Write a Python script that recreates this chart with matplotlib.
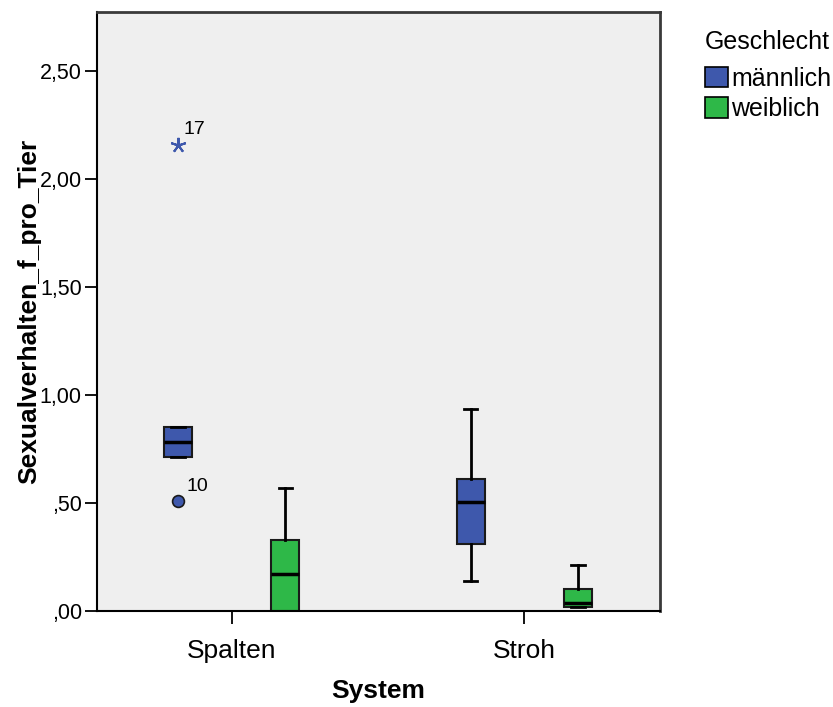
import matplotlib
matplotlib.use("Agg")
import matplotlib.pyplot as plt
from matplotlib.patches import Patch
from matplotlib.ticker import FuncFormatter

plt.rcParams["font.family"] = ["Liberation Sans", "DejaVu Sans"]

# Data
systems = ["Spalten", "Stroh"]
groups = ["männlich", "weiblich"]
colors = ["#3E58AC", "#2EB848"]

# per system, per group: [whislo, q1, med, q3, whishi]
spalten_m = [0.714, 0.714, 0.782, 0.850, 0.850]
spalten_w = [0.0, 0.0, 0.171, 0.329, 0.569]
stroh_m = [0.139, 0.309, 0.503, 0.611, 0.935]
stroh_w = [0.018, 0.020, 0.038, 0.103, 0.214]

outlier_vals = [0.509]
outlier_ids = ["10"]
extreme_vals = [2.157]
extreme_ids = ["17"]

BG = "#EFEFEF"

fig = plt.figure(figsize=(8.33, 7.07), dpi=100)
ax = fig.add_axes([97 / 833, 96 / 707, 563 / 833, 599 / 707])
ax.set_facecolor(BG)

offset = 0.1835
width = 0.0957
summaries = [[spalten_m, spalten_w], [stroh_m, stroh_w]]

for si, sys_stats in enumerate(summaries):
    for gi, s in enumerate(sys_stats):
        pos = si + (-offset if gi == 0 else offset)
        stats = [dict(whislo=s[0], q1=s[1], med=s[2], q3=s[3], whishi=s[4], fliers=[])]
        ax.bxp(stats, positions=[pos], widths=width, capwidths=0.046,
               patch_artist=True, showfliers=False,
               boxprops=dict(facecolor=colors[gi], edgecolor="#1a1a1a", linewidth=1.5),
               medianprops=dict(color="black", linewidth=2.5),
               whiskerprops=dict(color="black", linewidth=2),
               capprops=dict(color="black", linewidth=2))

# outliers / extremes (Spalten, männlich)
xo = -offset
ax.plot([xo] * len(outlier_vals), outlier_vals, "o", ms=8.5, mfc=colors[0],
        mec="#1a1a1a", mew=1.2, zorder=5)
for v, lab in zip(outlier_vals, outlier_ids):
    ax.text(xo + 0.028, v + 0.03, lab, fontsize=14, ha="left", va="bottom")
ax.plot([xo] * len(extreme_vals), extreme_vals, marker=(5, 2, 0), ls="none", ms=11,
        color=colors[0], mew=1.5, zorder=5)
for v, lab in zip(extreme_vals, extreme_ids):
    ax.text(xo + 0.02, v + 0.035, lab, fontsize=14, ha="left", va="bottom")

ax.set_xlim(-0.460, 1.464)
ax.set_ylim(0, 2.773)
ax.set_xticks(range(len(systems)))
ax.set_xticklabels(systems, fontsize=19)
ax.set_yticks([0, 0.5, 1.0, 1.5, 2.0, 2.5])
ax.yaxis.set_major_formatter(FuncFormatter(
    lambda v, p: ("%.2f" % v).replace(".", ",").lstrip("0") if v < 1 else ("%.2f" % v).replace(".", ",")))
ax.tick_params(axis="y", labelsize=15.5, length=9, width=1.3, pad=2)
ax.tick_params(axis="x", length=9, width=1.3, pad=11)

for side in ["left", "bottom"]:
    ax.spines[side].set_color("black")
    ax.spines[side].set_linewidth(1.5)
for side in ["top", "right"]:
    ax.spines[side].set_color("#3a3a3a")
    ax.spines[side].set_linewidth(2)

ax.set_xlabel("System", fontsize=19, fontweight="bold", labelpad=12)
ax.set_ylabel("Sexualverhalten_f_pro_Tier", fontsize=19, fontweight="bold", labelpad=-1)

handles = [Patch(facecolor=c, edgecolor="black", linewidth=1.2) for c in colors]
leg = fig.legend(handles, groups, loc="upper left", bbox_to_anchor=(705 / 833, 1 - 30 / 707),
                 frameon=False, fontsize=18, title="Geschlecht", title_fontsize=18,
                 handlelength=0.9, handleheight=0.9, handletextpad=0.15,
                 labelspacing=0.25, borderaxespad=0, borderpad=0)
leg._legend_box.align = "left"
leg._legend_box.sep = 9

fig.savefig("out.png", dpi=100, facecolor="white")
